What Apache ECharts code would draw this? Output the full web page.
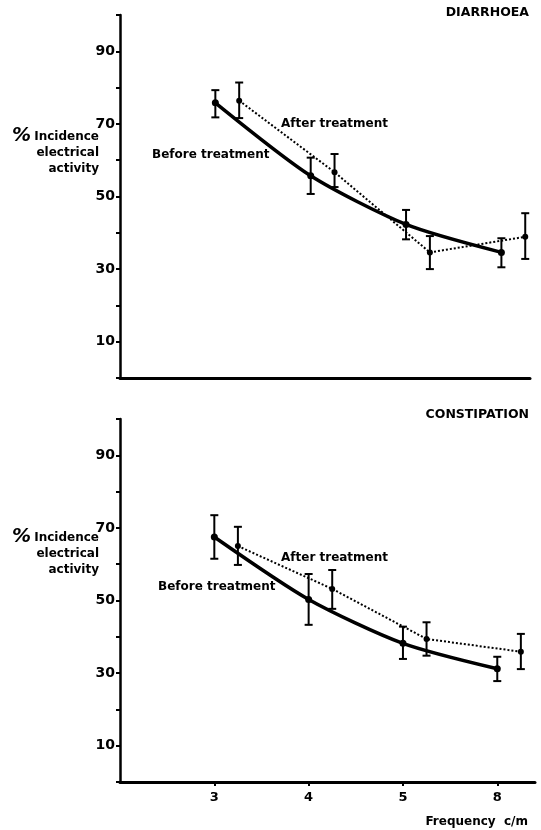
<!DOCTYPE html>
<html>
<head>
<meta charset="utf-8">
<script src="https://cdn.jsdelivr.net/npm/echarts@6/dist/echarts.min.js"></script>
<style>html,body{margin:0;padding:0;background:#fff;}#c{width:541px;height:830px;}</style>
</head>
<body>
<div id="c"></div>
<script>
// ---- data ----
var categories = ['3', '4', '5', '8'];
var yTickLabels = ['10', '30', '50', '70', '90'];
var AFTER_OFFSET = 0.25;

// Diarrhoea
var diaBefore     = [75.8, 55.7, 42.3, 34.6];
var diaBeforeLow  = [71.8, 50.7, 38.2, 30.5];
var diaBeforeHigh = [79.3, 60.7, 46.3, 38.5];
var diaAfter      = [76.4, 56.7, 34.6, 38.9];
var diaAfterLow   = [71.6, 52.6, 30.0, 32.8];
var diaAfterHigh  = [81.4, 61.7, 39.1, 45.4];

// Constipation
var conBefore     = [67.5, 50.3, 38.2, 31.2];
var conBeforeLow  = [61.5, 43.3, 33.9, 27.8];
var conBeforeHigh = [73.5, 57.3, 42.8, 34.5];
var conAfter      = [65.0, 53.2, 39.4, 35.9];
var conAfterLow   = [59.8, 47.7, 34.8, 31.1];
var conAfterHigh  = [70.3, 58.4, 44.0, 40.8];

// ---- chart ----
var FONT = '"DejaVu Sans", sans-serif';
function pts(vals, off) { return vals.map(function (v, i) { return [i + off, v]; }); }
function errs(lo, hi, off) { return lo.map(function (v, i) { return [i + off, v, hi[i]]; }); }

function errRender(lw) {
  return function (params, api) {
    var x = api.value(0);
    var p1 = api.coord([x, api.value(1)]);
    var p2 = api.coord([x, api.value(2)]);
    var cw = 4;
    var st = { stroke: '#000', lineWidth: lw };
    return { type: 'group', children: [
      { type: 'line', shape: { x1: p1[0], y1: p1[1], x2: p2[0], y2: p2[1] }, style: st },
      { type: 'line', shape: { x1: p1[0] - cw, y1: p1[1], x2: p1[0] + cw, y2: p1[1] }, style: st },
      { type: 'line', shape: { x1: p2[0] - cw, y1: p2[1], x2: p2[0] + cw, y2: p2[1] }, style: st }
    ]};
  };
}

function yAxis(gi) {
  return {
    type: 'value', gridIndex: gi, min: 0, max: 100, interval: 10,
    axisLine: { show: true, onZero: false, lineStyle: { color: '#000', width: 2.5 } },
    axisTick: { show: true, length: 4, lineStyle: { color: '#000', width: 2 } },
    axisLabel: {
      color: '#000', fontFamily: FONT, fontWeight: 'bold', fontSize: 14, margin: 5,
      formatter: function (v) { return yTickLabels.indexOf(String(v)) >= 0 ? String(v) : ''; }
    },
    splitLine: { show: false }
  };
}
function xAxis(gi, max, showLabels) {
  return {
    type: 'value', gridIndex: gi, min: -1, max: max,
    axisLine: { show: true, onZero: false, lineStyle: { color: '#000', width: 3 } },
    axisTick: { show: showLabels, length: 4, customValues: [0, 1, 2, 3], lineStyle: { color: '#000', width: 2 } },
    axisLabel: {
      show: showLabels, customValues: [0, 1, 2, 3], margin: 9,
      color: '#000', fontFamily: FONT, fontWeight: 'bold', fontSize: 13,
      formatter: function (v) { return categories[Math.round(v)] || ''; }
    },
    splitLine: { show: false }
  };
}

function panelSeries(gi, before, bLo, bHi, after, aLo, aHi) {
  return [
    { type: 'line', xAxisIndex: gi, yAxisIndex: gi, data: pts(before, 0), smooth: 0.25,
      symbol: 'circle', symbolSize: 7, itemStyle: { color: '#000' },
      lineStyle: { color: '#000', width: 3.5 }, z: 3, silent: true },
    { type: 'line', xAxisIndex: gi, yAxisIndex: gi, data: pts(after, AFTER_OFFSET),
      symbol: 'circle', symbolSize: 6, itemStyle: { color: '#000' },
      lineStyle: { color: '#000', width: 2, type: [2, 2] }, z: 3, silent: true },
    { type: 'custom', xAxisIndex: gi, yAxisIndex: gi, data: errs(bLo, bHi, 0),
      encode: { x: 0, y: [1, 2] }, renderItem: errRender(2), z: 4, silent: true },
    { type: 'custom', xAxisIndex: gi, yAxisIndex: gi, data: errs(aLo, aHi, AFTER_OFFSET),
      encode: { x: 0, y: [1, 2] }, renderItem: errRender(2), z: 4, silent: true }
  ];
}

function txt(x, y, s, align, size, style) {
  return { type: 'text', x: x, y: y,
    style: { text: s, fill: '#000', font: (style || '') + ' bold ' + (size || 11) + 'px ' + FONT,
      textAlign: align || 'left', textVerticalAlign: 'middle' } };
}

var chart = echarts.init(document.getElementById('c'), null, { renderer: 'canvas' });
chart.setOption({
  backgroundColor: '#fff',
  animation: false,
  grid: [
    { left: 120, right: 11, top: 15, height: 363 },
    { left: 120, right: 6, top: 419, height: 363 }
  ],
  xAxis: [xAxis(0, 3.3, false), xAxis(1, 3.4, true)],
  yAxis: [yAxis(0), yAxis(1)],
  series: [].concat(
    panelSeries(0, diaBefore, diaBeforeLow, diaBeforeHigh, diaAfter, diaAfterLow, diaAfterHigh),
    panelSeries(1, conBefore, conBeforeLow, conBeforeHigh, conAfter, conAfterLow, conAfterHigh)
  ),
  graphic: [
    txt(529, 13, 'DIARRHOEA', 'right', 12.5),
    txt(529, 415, 'CONSTIPATION', 'right', 12.5),
    txt(281, 124, 'After treatment', 'left', 12),
    txt(152, 155, 'Before treatment', 'left', 12),
    txt(281, 558, 'After treatment', 'left', 12),
    txt(158, 587, 'Before treatment', 'left', 12),
    txt(99, 137, 'Incidence', 'right', 12),
    txt(12, 136, '%', 'left', 19, 'italic'),
    txt(99, 153, 'electrical', 'right', 12),
    txt(99, 169, 'activity', 'right', 12),
    txt(99, 538, 'Incidence', 'right', 12),
    txt(12, 537, '%', 'left', 19, 'italic'),
    txt(99, 554, 'electrical', 'right', 12),
    txt(99, 570, 'activity', 'right', 12),
    txt(528, 822, 'Frequency  c/m', 'right', 12)
  ]
});
</script>
</body>
</html>
